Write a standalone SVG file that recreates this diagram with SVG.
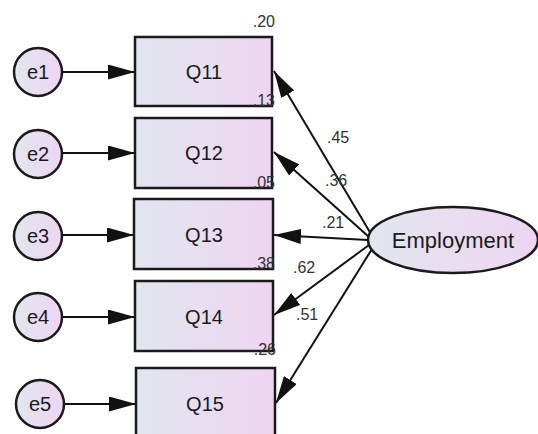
<svg xmlns="http://www.w3.org/2000/svg" width="538" height="434" viewBox="0 0 538 434">
  <defs>
    <linearGradient id="fillGrad" x1="0" y1="0" x2="1" y2="0">
      <stop offset="0" stop-color="#e2e6ef"/>
      <stop offset="1" stop-color="#eed5f2"/>
    </linearGradient>
    <marker id="arrow" markerUnits="userSpaceOnUse" markerWidth="27" markerHeight="15" refX="27" refY="7.5" orient="auto">
      <path d="M0,0 L27,7.5 L0,15 Z" fill="#111"/>
    </marker>
    <style>
      .box { fill: url(#fillGrad); stroke: #1a1a1a; stroke-width: 2.5; }
      .err { fill: url(#fillGrad); stroke: #1a1a1a; stroke-width: 2.5; }
      .lat { fill: url(#fillGrad); stroke: #1a1a1a; stroke-width: 2.5; }
      .lbl { font-family: "Liberation Sans", Arial, sans-serif; font-size: 20px; fill: #1a1a1a; text-anchor: middle; }
      .big { font-family: "Liberation Sans", Arial, sans-serif; font-size: 22px; fill: #1a1a1a; text-anchor: middle; }
      .num { font-family: "Liberation Sans", Arial, sans-serif; font-size: 16px; fill: #333; }
      .end { text-anchor: end; }
      .edge { stroke: #111; stroke-width: 2; fill: none; marker-end: url(#arrow); }
    </style>
  </defs>
  <rect width="538" height="434" fill="#ffffff"/>

  <!-- connectors -->
  <g id="connectors">
    <line class="edge" x1="63" y1="72" x2="135" y2="72"/>
    <line class="edge" x1="63" y1="153" x2="135" y2="153"/>
    <line class="edge" x1="63" y1="235" x2="134" y2="235"/>
    <line class="edge" x1="63" y1="317" x2="135" y2="317"/>
    <line class="edge" x1="65" y1="404" x2="136" y2="404"/>
    <line class="edge" x1="371" y1="234" x2="274" y2="71"/>
    <line class="edge" x1="369" y1="237" x2="274" y2="152"/>
    <line class="edge" x1="368" y1="240" x2="274" y2="235"/>
    <line class="edge" x1="369" y1="245" x2="274" y2="315"/>
    <line class="edge" x1="372" y1="249" x2="276" y2="403"/>
  </g>

  <!-- error terms -->
  <g id="e1"><circle class="err" cx="38" cy="72" r="24"/><text class="lbl" x="38" y="79">e1</text></g>
  <g id="e2"><circle class="err" cx="38" cy="154" r="24"/><text class="lbl" x="38" y="161">e2</text></g>
  <g id="e3"><circle class="err" cx="38" cy="236" r="24"/><text class="lbl" x="38" y="243">e3</text></g>
  <g id="e4"><circle class="err" cx="38" cy="317" r="24"/><text class="lbl" x="38" y="324">e4</text></g>
  <g id="e5"><circle class="err" cx="40" cy="404" r="24"/><text class="lbl" x="40" y="411">e5</text></g>

  <!-- observed items -->
  <g id="Q11"><rect class="box" x="135" y="37" width="137" height="69"/><text class="lbl" x="204" y="79">Q11</text></g>
  <g id="Q12"><rect class="box" x="135" y="118" width="137" height="70"/><text class="lbl" x="204" y="160">Q12</text></g>
  <g id="Q13"><rect class="box" x="134" y="199" width="139" height="70"/><text class="lbl" x="204" y="242">Q13</text></g>
  <g id="Q14"><rect class="box" x="135" y="281" width="138" height="70"/><text class="lbl" x="204" y="324">Q14</text></g>
  <g id="Q15"><rect class="box" x="136" y="368" width="139" height="72"/><text class="lbl" x="205" y="411">Q15</text></g>

  <!-- latent factor -->
  <g id="Employment"><ellipse class="lat" cx="453" cy="240" rx="85" ry="33"/><text class="big" x="453" y="248">Employment</text></g>

  <!-- squared multiple correlations -->
  <g id="r2">
    <text class="num end" x="275" y="27">.20</text>
    <text class="num end" x="275" y="106">.13</text>
    <text class="num end" x="275" y="188">.05</text>
    <text class="num end" x="275" y="269">.38</text>
    <text class="num end" x="276" y="355">.26</text>
  </g>

  <!-- standardized loadings -->
  <g id="loadings">
    <text class="num" x="327" y="143">.45</text>
    <text class="num" x="325" y="186">.36</text>
    <text class="num" x="322" y="228">.21</text>
    <text class="num" x="293" y="273">.62</text>
    <text class="num" x="296" y="320">.51</text>
  </g>
</svg>
